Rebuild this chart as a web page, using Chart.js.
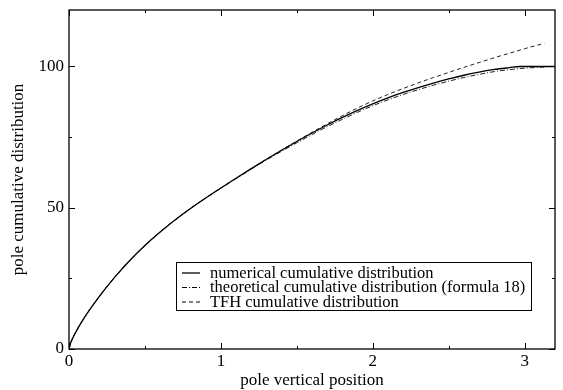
<!DOCTYPE html>
<html>
<head>
<meta charset="utf-8">
<script src="https://cdn.jsdelivr.net/npm/chart.js@4"></script>
<style>
  html, body { margin: 0; padding: 0; background: #fff; }
</style>
</head>
<body>
<canvas id="chart" width="563" height="390"></canvas>
<script>
// Numerical cumulative distribution
const xNum = [0, 0.01, 0.025, 0.05, 0.1, 0.2, 0.3, 0.4, 0.5, 0.6, 0.7, 0.8, 0.9, 1.0, 1.1, 1.2, 1.3, 1.4, 1.5,
    1.6, 1.7, 1.8, 1.9, 2.0, 2.1, 2.2, 2.3, 2.4, 2.5, 2.6, 2.7, 2.8, 2.9, 2.97, 3.1, 3.2];
const yNum = [0, 2.0, 3.9, 6.5, 11.0, 18.6, 25.35, 31.35, 36.65, 41.4, 45.75, 49.75, 53.45, 57, 60.45, 63.85, 67.15, 70.35, 73.45,
    76.45, 79.3, 82.0, 84.5, 86.8, 88.9, 90.8, 92.55, 94.15, 95.6, 96.9, 98.0, 98.95, 99.6, 100, 100, 100];

// Theoretical cumulative distribution (formula 18)
const xTheo = [0, 0.01, 0.025, 0.05, 0.1, 0.2, 0.3, 0.4, 0.5, 0.6, 0.7, 0.8, 0.9, 1.0, 1.1, 1.2, 1.3, 1.4, 1.5,
    1.6, 1.7, 1.8, 1.9, 2.0, 2.1, 2.2, 2.3, 2.4, 2.5, 2.6, 2.7, 2.8, 2.9, 3.0, 3.13];
const yTheo = [0, 2.0, 3.9, 6.5, 11.0, 18.6, 25.35, 31.35, 36.65, 41.4, 45.75, 49.75, 53.4, 56.9, 60.3, 63.65, 66.9, 70.0, 73.0,
    75.9, 78.7, 81.3, 83.8, 86.1, 88.2, 90.1, 91.8, 93.4, 94.8, 96.1, 97.2, 98.2, 98.9, 99.4, 99.8];

// TFH cumulative distribution
const xTfh = [0, 0.01, 0.025, 0.05, 0.1, 0.2, 0.3, 0.4, 0.5, 0.6, 0.7, 0.8, 0.9, 1.0, 1.1, 1.2, 1.3, 1.4, 1.5,
    1.6, 1.7, 1.8, 1.9, 2.0, 2.1, 2.2, 2.3, 2.4, 2.5, 2.6, 2.7, 2.8, 2.9, 3.0, 3.13];
const yTfh = [0, 2.0, 3.9, 6.5, 11.0, 18.6, 25.35, 31.35, 36.65, 41.4, 45.75, 49.75, 53.45, 57, 60.45, 63.85, 67.2, 70.45, 73.6,
    76.7, 79.7, 82.6, 85.3, 87.8, 90.1, 92.2, 94.2, 96.1, 97.9, 99.7, 101.4, 103.1, 104.7, 106.3, 108.2];

// Ticks
const xTicks = [0, 1, 2, 3];
const xMinor = [0.5, 1.5, 2.5];
const yTicks = [0, 50, 100];
const yMinor = [25, 75];

const labels = [
    'numerical cumulative distribution',
    'theoretical cumulative distribution (formula 18)',
    'TFH cumulative distribution'
];

const serif = "'Liberation Serif', 'DejaVu Serif', serif";

function toPoints(xs, ys) {
    return xs.map((x, i) => ({ x: x, y: ys[i] }));
}

// Frame, inside ticks and the boxed legend
const framePlugin = {
    id: 'frame',
    afterDraw(chart) {
        const ctx = chart.ctx;
        const a = chart.chartArea;
        const xs = chart.scales.x;
        const ys = chart.scales.y;
        ctx.save();
        ctx.strokeStyle = '#000';
        ctx.lineWidth = 1.3;
        ctx.strokeRect(a.left, a.top, a.right - a.left, a.bottom - a.top);

        ctx.lineWidth = 1;
        const tick = (v, len, horiz) => {
            if (horiz) {
                const p = Math.round(xs.getPixelForValue(v)) + 0.5;
                ctx.beginPath();
                ctx.moveTo(p, a.bottom); ctx.lineTo(p, a.bottom - len);
                ctx.moveTo(p, a.top); ctx.lineTo(p, a.top + len);
                ctx.stroke();
            } else {
                const p = Math.round(ys.getPixelForValue(v)) + 0.5;
                ctx.beginPath();
                ctx.moveTo(a.left, p); ctx.lineTo(a.left + len, p);
                ctx.moveTo(a.right, p); ctx.lineTo(a.right - len, p);
                ctx.stroke();
            }
        };
        xTicks.forEach(v => tick(v, 6, true));
        xMinor.forEach(v => tick(v, 3, true));
        yTicks.forEach(v => tick(v, 6, false));
        yMinor.forEach(v => tick(v, 3, false));

        // legend box
        const bx = 176, by = 262, bw = 355, bh = 48;
        ctx.fillStyle = '#fff';
        ctx.fillRect(bx, by, bw, bh);
        ctx.lineWidth = 1;
        ctx.strokeStyle = '#000';
        ctx.strokeRect(bx + 0.5, by + 0.5, bw, bh);
        ctx.font = '16.5px ' + serif;
        ctx.textBaseline = 'middle';
        ctx.fillStyle = '#000';
        chart.data.datasets.forEach((ds, i) => {
            const rowY = by + 10.5 + i * 14.5;
            ctx.beginPath();
            ctx.setLineDash(ds.borderDash || []);
            ctx.lineWidth = ds.borderWidth;
            ctx.moveTo(182, rowY + 0.5);
            ctx.lineTo(200, rowY + 0.5);
            ctx.stroke();
            ctx.setLineDash([]);
            ctx.fillText(ds.label, 210, rowY + 1);
        });
        ctx.restore();
    }
};

const ctx = document.getElementById('chart').getContext('2d');
new Chart(ctx, {
    type: 'line',
    data: {
        datasets: [
            {
                label: labels[0],
                data: toPoints(xNum, yNum),
                borderColor: '#000',
                borderWidth: 1.3,
                pointRadius: 0,
                cubicInterpolationMode: 'monotone'
            },
            {
                label: labels[1],
                data: toPoints(xTheo, yTheo),
                borderColor: '#222',
                borderWidth: 1,
                borderDash: [5, 2, 1, 2],
                pointRadius: 0,
                cubicInterpolationMode: 'monotone'
            },
            {
                label: labels[2],
                data: toPoints(xTfh, yTfh),
                borderColor: '#222',
                borderWidth: 1,
                borderDash: [4, 3],
                pointRadius: 0,
                cubicInterpolationMode: 'monotone'
            }
        ]
    },
    options: {
        responsive: false,
        animation: false,
        devicePixelRatio: 1,
        layout: { padding: { top: 10, right: 8, left: 0, bottom: 0 } },
        plugins: {
            legend: { display: false },
            tooltip: { enabled: false }
        },
        scales: {
            x: {
                type: 'linear',
                min: 0,
                max: 3.2,
                grid: { display: false, drawTicks: false },
                border: { display: false },
                afterBuildTicks: s => { s.ticks = xTicks.map(v => ({ value: v })); },
                afterFit: s => { s.height = 41; s.paddingLeft = 0; s.paddingRight = 0; },
                ticks: {
                    color: '#000',
                    padding: 2,
                    maxRotation: 0,
                    font: { family: serif, size: 17 },
                    callback: v => String(v)
                },
                title: {
                    display: true,
                    text: 'pole vertical position',
                    color: '#000',
                    font: { family: serif, size: 17 },
                    padding: { top: 0, bottom: -1 }
                }
            },
            y: {
                type: 'linear',
                min: 0,
                max: 120,
                grid: { display: false, drawTicks: false },
                border: { display: false },
                afterBuildTicks: s => { s.ticks = yTicks.map(v => ({ value: v })); },
                afterFit: s => { s.width = 69; s.paddingTop = 0; s.paddingBottom = 0; },
                ticks: {
                    color: '#000',
                    padding: 5,
                    font: { family: serif, size: 17 },
                    callback: v => String(v)
                },
                title: {
                    display: true,
                    text: 'pole cumulative distribution',
                    color: '#000',
                    font: { family: serif, size: 17 },
                    padding: { top: 8, bottom: 0 }
                }
            }
        }
    },
    plugins: [framePlugin]
});
</script>
</body>
</html>
